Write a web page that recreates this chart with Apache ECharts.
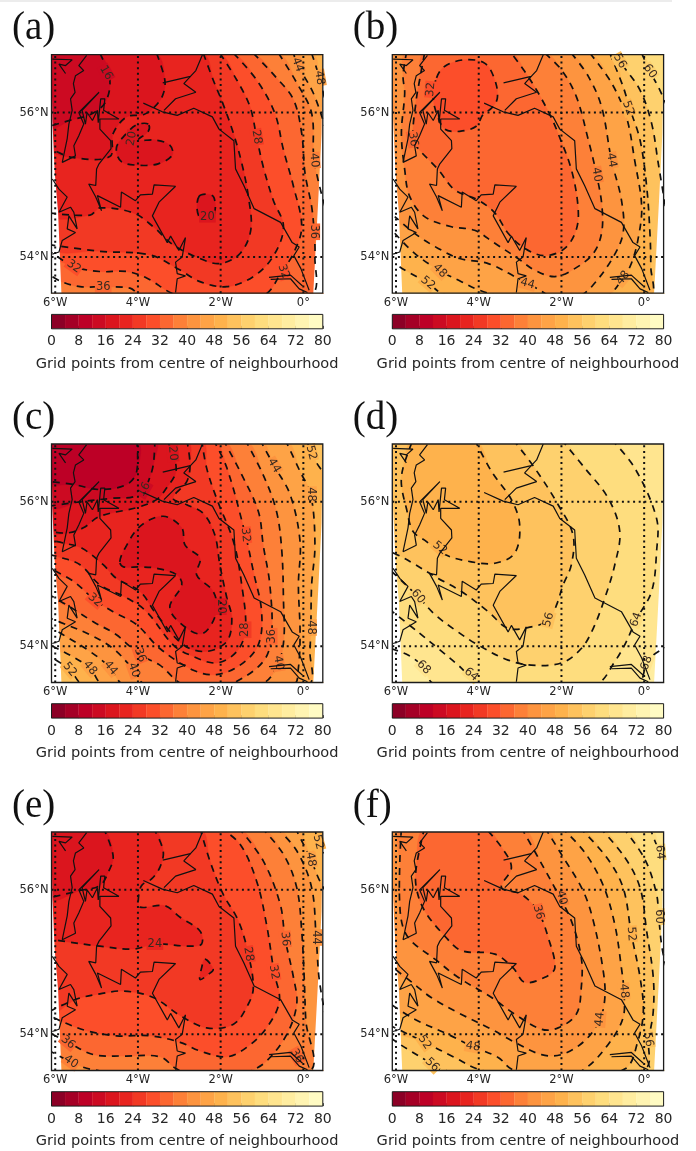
<!DOCTYPE html>
<html><head><meta charset="utf-8">
<style>html,body{margin:0;padding:0;background:#fff}#c{width:696px;height:1151px}</style>
<script src="https://cdn.jsdelivr.net/npm/echarts@6/dist/echarts.min.js"></script>
</head><body><div id="c"></div><script>
// ---- axes and colour scale ----
const lonMin=-6.09, lonMax=0.47, latMin=53.5, latMax=56.8;
const lonTicks=[-6,-4,-2,0], lonTickLabels=['6°W','4°W','2°W','0°'];
const latTicks=[54,56], latTickLabels=['54°N','56°N'];
const barTicks=[0,8,16,24,32,40,48,56,64,72,80];
const barLevels=[4,8,12,16,20,24,28,32,36,40,44,48,52,56,60,64,68,72,76,80];
const cmapStops=[[128,0,38],[189,0,38],[227,26,28],[252,78,42],[253,141,60],[254,178,76],[254,217,118],[255,237,160],[255,255,204]];
const barTitle='Grid points from centre of neighbourhood';
const panelNames=['(a)','(b)','(c)','(d)','(e)','(f)'];

// ---- coastline, lon/lat ----
const coastWest=[[-5.24,56.79],[-5.43,56.65],[-5.31,56.58],[-5.51,56.51],[-5.56,56.40],[-5.52,56.28],[-5.63,56.19],[-5.59,56.03],[-5.67,55.84],[-5.71,55.64],[-5.83,55.31],[-5.51,55.40],[-5.55,55.54],[-5.43,55.68],[-5.31,55.84],[-5.43,56.00],[-4.94,56.28],[-5.35,56.03],[-5.27,55.84],[-5.23,56.00],[-5.10,55.89],[-4.98,56.03],[-4.96,55.86],[-4.90,56.19],[-4.80,56.19],[-4.83,56.03],[-4.46,55.91],[-4.92,55.91],[-4.92,55.77],[-4.66,55.61],[-4.65,55.50],[-4.94,55.29],[-5.00,55.22],[-5.02,54.99],[-5.19,55.01],[-5.02,54.83],[-4.88,54.64],[-4.98,54.85],[-4.42,54.69],[-4.40,54.90],[-4.06,54.78],[-3.94,54.86],[-3.65,54.87],[-3.61,55.00],[-3.09,54.98],[-3.49,54.76],[-3.65,54.57],[-3.29,54.20],[-3.21,54.29],[-3.01,54.09],[-2.85,54.27],[-2.93,54.00],[-3.09,53.93],[-3.05,53.77],[-2.85,53.74],[-3.05,53.70],[-3.09,53.51]];
const coastEast=[[-3.87,56.13],[-3.41,56.01],[-3.05,55.96],[-2.65,56.06],[-2.20,55.94],[-2.04,55.77],[-1.68,55.61],[-1.64,55.22],[-1.44,54.99],[-1.19,54.67],[-0.55,54.48],[-0.27,54.20],[-0.10,54.14],[-0.23,54.02],[-0.06,53.84],[0.14,53.54]];
const coastTay=[[-2.44,56.80],[-2.60,56.58],[-2.73,56.50],[-3.40,56.41]];
const coastForth=[[-2.73,56.50],[-2.89,56.40],[-2.60,56.28],[-3.09,56.19],[-3.37,56.03]];
const coastIslands=[[-6.07,56.74],[-5.59,56.73],[-5.75,56.65],[-5.91,56.67],[-5.75,56.54]];
const coastHumberN=[[-0.83,53.72],[-0.31,53.75],[-0.02,53.60]];
const coastHumberS=[[-0.79,53.69],[-0.31,53.70],[-0.10,53.56],[0.10,53.51]];
const coastIreland=[[-6.07,55.08],[-5.91,54.94],[-5.71,54.83],[-5.91,54.62],[-5.63,54.69],[-5.55,54.62],[-5.47,54.39],[-5.67,54.57],[-5.71,54.39],[-5.51,54.34],[-5.83,54.23],[-5.91,54.07],[-6.07,54.04]];
const coastSegments=[coastWest,coastEast,coastTay,coastForth,coastIslands,coastHumberN,coastHumberS,coastIreland];

// ---- region outside the model domain (left of / right of the curved edges) ----
const outsideLeft=[[-6.3,57],[-6.09,56.8],[-6.07,55.9],[-6.01,55.16],[-5.93,54.61],[-5.85,53.5],[-6.3,53.3]];
const outsideRight=[[0.7,57],[0.47,56.8],[0.44,55.71],[0.36,54.79],[0.24,53.5],[0.7,53.3]];

// ---- panel (a) ----
const baseA=52;
const contoursA=[
{level:48,close:'BR,BL,TL',line:[[0.20,56.82],[0.39,56.48],[0.52,56.18]]},
{level:44,close:'BR,BL,TL',line:[[-0.24,56.82],[-0.14,56.66],[0.24,56.27],[0.52,55.81]]},
{level:40,close:'BR,BL,TL',line:[[-0.60,56.82],[-0.16,56.41],[0.20,55.99],[0.26,55.34],[0.52,54.70]]},
{level:36,close:'TL',line:[[-1.21,56.82],[-0.65,56.48],[-0.24,56.18],[-0.04,55.71],[0.04,55.16],[0.20,54.70],[0.26,54.35],[0.28,54.01],[0.20,53.48],[-1.69,53.27],[-3.95,53.48],[-4.19,53.57],[-4.84,53.59],[-5.40,53.59],[-5.85,53.66],[-6.13,53.75]]},
{level:32,close:'TL',line:[[-1.69,56.82],[-1.13,56.45],[-0.69,55.99],[-0.48,55.48],[-0.24,54.98],[-0.04,54.42],[-0.24,54.05],[-0.52,53.80],[-0.93,53.48],[-2.0,53.35],[-3.10,53.48],[-3.79,53.71],[-4.27,53.80],[-4.92,53.80],[-5.55,53.87],[-6.13,54.08]]},
{level:28,close:'TL',line:[[-2.02,56.82],[-1.61,56.45],[-1.29,56.08],[-1.13,55.66],[-0.97,55.25],[-0.73,54.79],[-0.48,54.42],[-0.73,54.01],[-1.21,53.73],[-1.85,53.59],[-2.50,53.66],[-2.98,53.82],[-3.71,54.03],[-4.92,54.08],[-6.13,54.17]]},
{level:24,close:'TL',line:[[-2.42,56.82],[-2.18,56.45],[-1.95,56.13],[-1.69,55.71],[-1.49,55.30],[-1.33,54.84],[-1.27,54.38],[-1.53,54.05],[-2.02,53.91],[-2.50,53.98],[-3.15,54.17],[-3.63,54.42],[-4.11,54.61],[-4.92,54.68],[-5.16,54.58],[-6.13,54.61]]},
{level:20,close:'TL',line:[[-3.55,56.82],[-3.35,56.45],[-3.40,56.24],[-3.61,56.07],[-3.87,55.97],[-4.27,55.94],[-4.60,55.71],[-4.68,55.39],[-5.60,55.38],[-6.13,55.51]]},
{level:20,closed:true,line:[[-3.75,55.84],[-4.03,55.83],[-4.31,55.69],[-4.52,55.51],[-4.40,55.32],[-3.95,55.27],[-3.51,55.29],[-3.17,55.41],[-3.23,55.55],[-3.59,55.62],[-3.99,55.62],[-3.75,55.74]]},
{level:20,closed:true,line:[[-2.52,54.84],[-2.18,54.84],[-2.18,54.56],[-2.52,54.56]]},
{level:16,close:'TL',line:[[-4.92,56.82],[-4.68,56.45],[-4.80,56.13],[-5.16,55.97],[-5.60,55.90],[-6.13,55.81]]}
];
const labelsA=[['16',-4.77,56.55,-60],['20',-4.15,55.64,80],['20',-2.32,54.56,0],['28',-1.13,55.66,-80],['40',0.26,55.34,-85],['36',0.26,54.35,-90],['44',-0.14,56.66,-70],['48',0.39,56.48,-80],['32',-5.55,53.87,-35],['36',-4.84,53.59,0],['32',-0.48,53.80,-70]];

// ---- panel (b) ----
const baseB=64;
const contoursB=[
{level:60,close:'BR,BL,TL',line:[[-0.06,56.82],[0.14,56.57],[0.38,56.31],[0.62,55.99]]},
{level:56,close:'BR,BL,TL',line:[[-0.67,56.82],[-0.55,56.68],[-0.10,56.31],[0.18,55.85],[0.34,55.30],[0.62,54.33]]},
{level:52,close:'TL',line:[[-0.83,56.82],[-0.51,56.36],[-0.35,56.06],[-0.10,55.62],[0.06,54.98],[0.14,54.33],[0.16,53.87],[0.14,53.45],[-2.0,53.2],[-4.82,53.48],[-5.23,53.64],[-5.79,53.82],[-6.03,53.91]]},
{level:48,close:'TL',line:[[-1.31,56.82],[-0.79,56.41],[-0.43,55.94],[-0.23,55.34],[-0.06,54.70],[-0.15,54.24],[-0.31,53.91],[-0.51,53.71],[-0.91,53.45],[-2.0,53.25],[-3.45,53.45],[-4.02,53.55],[-4.42,53.66],[-4.94,53.81],[-5.55,54.05],[-6.03,54.33]]},
{level:44,close:'TL',line:[[-1.76,56.82],[-1.35,56.50],[-1.03,56.08],[-0.79,55.34],[-0.55,54.79],[-0.51,54.33],[-0.79,53.96],[-1.27,53.59],[-1.56,53.45],[-2.0,53.27],[-2.36,53.48],[-3.13,53.73],[-3.77,53.91],[-4.46,53.98],[-4.98,54.12],[-5.51,54.31],[-6.03,54.56]]},
{level:40,line:[[-2.40,56.82],[-2.00,56.59],[-1.64,56.22],[-1.35,55.62],[-1.15,55.14],[-1.02,54.70],[-1.03,54.33],[-1.23,54.05],[-1.68,53.84],[-2.16,53.73],[-2.65,53.82],[-3.05,53.98],[-3.61,54.19],[-4.10,54.37],[-4.66,54.42],[-5.31,54.56],[-5.67,54.84],[-5.79,55.21],[-5.87,55.71],[-5.79,56.27],[-5.83,56.50],[-5.75,56.82]]},
{level:36,line:[[-5.31,56.82],[-5.43,56.45],[-5.51,56.18],[-5.59,55.62],[-5.43,55.48],[-4.98,55.21],[-4.58,54.93],[-4.02,54.79],[-3.61,54.61],[-3.29,54.33],[-2.89,54.12],[-2.40,54.02],[-1.92,54.12],[-1.64,54.38],[-1.60,54.70],[-1.76,55.21],[-2.08,55.71],[-2.28,55.97],[-2.60,56.31],[-2.89,56.57],[-3.21,56.82]]},
{level:32,closed:true,line:[[-5.02,56.48],[-4.82,56.64],[-4.34,56.73],[-3.85,56.68],[-3.61,56.45],[-3.55,56.20],[-3.69,56.06],[-3.90,55.97],[-4.06,55.81],[-4.46,55.74],[-4.82,55.77],[-5.02,55.99],[-5.10,56.22]]}
];
const labelsB=[['32',-5.16,56.32,85],['36',-5.59,55.63,-80],['48',-4.94,53.81,-45],['52',-5.23,53.64,-40],['44',-2.82,53.63,-15],['40',-1.15,55.14,-80],['44',-0.79,55.34,-80],['52',-0.39,56.06,-70],['56',-0.59,56.71,-60],['60',0.14,56.57,-55],['48',-0.51,53.71,50]];

// ---- panel (c) ----
const baseC=56;
const contoursC=[
{level:52,close:'TL',line:[[0.08,56.86],[0.19,56.68],[0.40,56.47],[0.73,56.24],[0.73,53.47],[-2.34,53.19],[-5.32,53.47],[-5.65,53.68],[-6.13,53.86]]},
{level:48,close:'TL',line:[[-0.44,56.86],[-0.08,56.42],[0.18,56.10],[0.28,55.40],[0.20,54.85],[0.18,54.26],[0.16,53.93],[0.12,53.47],[-2.34,53.24],[-4.84,53.47],[-5.16,53.70],[-5.65,53.88],[-6.13,54.02]]},
{level:44,close:'TL',line:[[-1.05,56.86],[-0.71,56.50],[-0.32,56.10],[-0.08,55.45],[-0.12,54.85],[-0.08,54.20],[-0.12,53.70],[-0.24,53.47],[-2.34,53.26],[-4.35,53.47],[-4.66,53.70],[-5.16,53.93],[-5.81,54.16],[-6.13,54.27]]},
{level:40,close:'TL',line:[[-1.41,56.86],[-0.97,56.37],[-0.65,55.87],[-0.52,55.31],[-0.48,54.62],[-0.47,54.11],[-0.60,53.77],[-0.97,53.49],[-2.34,53.31],[-3.87,53.49],[-4.10,53.67],[-4.60,53.97],[-5.16,54.16],[-5.73,54.30],[-6.13,54.39]]},
{level:36,close:'TL',line:[[-1.94,56.86],[-1.53,56.42],[-1.09,55.87],[-0.97,55.40],[-0.81,54.85],[-0.77,54.14],[-0.97,53.79],[-1.69,53.49],[-2.34,53.35],[-2.98,53.49],[-3.47,53.74],[-3.95,53.88],[-4.52,54.16],[-5.08,54.34],[-5.60,54.53],[-6.13,54.71]]},
{level:32,close:'TL',line:[[-2.18,56.86],[-1.85,56.47],[-1.40,55.54],[-1.21,55.04],[-1.01,54.48],[-1.09,54.02],[-1.53,53.74],[-2.10,53.61],[-2.66,53.67],[-3.47,53.97],[-4.03,54.30],[-4.60,54.48],[-5.04,54.64],[-5.56,54.90],[-6.13,55.08]]},
{level:28,close:'TL',line:[[-2.46,56.86],[-2.34,56.47],[-2.10,56.05],[-1.69,55.45],[-1.49,54.85],[-1.40,54.23],[-1.61,53.93],[-2.10,53.77],[-2.74,53.88],[-3.15,54.02],[-3.79,54.48],[-4.27,54.67],[-4.92,54.85],[-5.40,55.13],[-5.93,55.24],[-6.13,55.27]]},
{level:24,close:'TL',line:[[-2.82,56.86],[-2.74,56.51],[-2.82,56.28],[-3.15,56.05],[-2.82,55.96],[-2.42,55.84],[-2.14,55.54],[-2.02,55.13],[-1.85,54.67],[-1.73,54.39],[-1.85,54.07],[-2.34,53.93],[-2.90,54.02],[-3.55,54.44],[-3.95,54.76],[-4.52,54.94],[-4.84,55.13],[-5.36,55.36],[-5.81,55.43],[-6.13,55.47]]},
{level:20,close:'TL',line:[[-3.31,56.86],[-3.16,56.67],[-3.08,56.42],[-3.31,56.19],[-3.55,56.03],[-4.03,55.92],[-4.92,55.80],[-5.32,55.64],[-5.69,55.57],[-6.13,55.59]]},
{level:20,closed:true,line:[[-4.44,55.17],[-4.31,55.36],[-3.95,55.66],[-3.39,55.80],[-2.94,55.64],[-2.86,55.40],[-2.50,55.22],[-2.58,54.99],[-2.18,54.76],[-2.10,54.48],[-2.42,54.18],[-2.82,54.25],[-3.23,54.53],[-2.94,54.85],[-3.06,54.99],[-3.55,55.08],[-3.95,55.10],[-4.35,55.10]]},
{level:16,close:'TL',line:[[-3.59,56.86],[-3.63,56.51],[-3.75,56.28],[-3.85,56.17],[-4.11,56.07],[-4.60,56.05],[-5.40,56.00],[-6.13,55.94]]},
{level:12,close:'TL',line:[[-4.03,56.86],[-4.03,56.42],[-4.27,56.24],[-4.92,56.17],[-5.56,56.24],[-6.13,56.28]]}
];
const labelsC=[['20',-3.16,56.67,-85],['16',-3.85,56.17,60],['44',-0.71,56.50,-60],['52',0.19,56.68,-75],['48',0.18,56.10,-90],['32',-1.40,55.54,-85],['32',-5.04,54.64,-40],['20',-2.00,54.55,-90],['28',-1.40,54.23,90],['36',-0.77,54.14,90],['48',0.18,54.26,-90],['36',-3.95,53.88,-70],['40',-4.10,53.67,-70],['44',-4.66,53.70,-50],['48',-5.16,53.70,-50],['52',-5.65,53.68,-50],['40',-0.60,53.77,-80]];

// ---- panel (d) ----
const baseD=72;
const contoursD=[
{level:68,close:'TL',line:[[0.82,56.86],[0.82,54.16],[0.22,53.88],[0.06,53.77],[-0.15,53.49],[-2.40,53.24],[-5.10,53.49],[-5.33,53.71],[-5.71,53.88],[-6.13,53.97]]},
{level:64,close:'TL',line:[[-0.79,56.86],[-0.23,56.47],[0.30,55.77],[0.30,55.31],[0.18,54.76],[-0.19,54.37],[-0.47,54.02],[-0.71,53.79],[-1.11,53.49],[-2.40,53.28],[-4.06,53.49],[-4.42,53.70],[-4.98,53.97],[-5.47,54.20],[-6.13,54.50]]},
{level:60,close:'TL',line:[[-2.00,56.86],[-1.44,56.47],[-0.87,56.05],[-0.59,55.59],[-0.71,55.13],[-0.95,54.67],[-1.23,54.25],[-1.52,53.97],[-2.00,53.77],[-2.73,53.74],[-3.29,53.81],[-4.02,54.02],[-4.58,54.23],[-5.06,54.44],[-5.47,54.69],[-6.13,55.05]]},
{level:56,close:'TL',line:[[-3.17,56.86],[-2.65,56.47],[-2.08,55.96],[-1.72,55.54],[-1.76,55.13],[-1.96,54.85],[-2.12,54.57],[-2.31,54.36],[-2.73,54.27],[-3.29,54.25],[-3.77,54.48],[-4.42,54.76],[-4.98,54.94],[-5.59,55.15],[-5.87,55.24],[-6.13,55.31]]},
{level:52,line:[[-4.10,56.86],[-3.69,56.42],[-3.21,56.03],[-3.01,55.68],[-3.13,55.29],[-3.61,55.15],[-4.18,55.17],[-4.82,55.27],[-5.31,55.47],[-5.59,55.59],[-5.75,55.91],[-5.87,56.24],[-5.83,56.47],[-5.59,56.86]]}
];
const labelsD=[['52',-4.94,55.36,-40],['60',-5.47,54.69,-50],['68',-5.33,53.71,-45],['64',-4.18,53.61,-40],['56',-2.31,54.37,75],['64',-0.19,54.37,70],['68',0.06,53.77,70]];

// ---- panel (e) ----
const baseE=56;
const contoursE=[
{level:52,close:'BR,BL,TL',line:[[0.28,56.86],[0.36,56.66],[0.73,56.31]]},
{level:48,close:'BR,BL,TL',line:[[-0.20,56.86],[0.18,56.42],[0.40,56.12],[0.73,55.80]]},
{level:44,close:'BR,BL,TL',line:[[-0.65,56.86],[-0.16,56.54],[0.20,56.03],[0.31,55.34],[0.40,54.69],[0.73,53.72]]},
{level:40,close:'TL',line:[[-1.01,56.86],[-0.48,56.49],[-0.16,56.03],[-0.04,55.43],[0.02,54.79],[0.06,54.19],[0.16,53.49],[-2.18,53.26],[-5.16,53.52],[-5.62,53.62],[-6.13,53.77]]},
{level:36,close:'TL',line:[[-1.57,56.86],[-0.97,56.40],[-0.56,55.80],[-0.44,55.32],[-0.24,54.79],[-0.16,54.42],[-0.40,54.00],[-0.89,53.63],[-1.29,53.49],[-2.18,53.31],[-3.06,53.52],[-3.47,53.69],[-4.35,53.70],[-5.08,53.72],[-5.69,53.89],[-6.13,54.02]]},
{level:32,close:'TL',line:[[-2.02,56.86],[-1.53,56.63],[-1.13,56.12],[-0.89,55.52],[-0.71,54.86],[-0.58,54.46],[-0.89,54.09],[-1.37,53.82],[-1.85,53.69],[-2.50,53.77],[-2.98,53.89],[-3.71,53.98],[-4.52,53.98],[-5.24,54.05],[-5.89,54.19],[-6.13,54.26]]},
{level:28,close:'TL',line:[[-2.50,56.86],[-2.26,56.40],[-1.94,55.94],[-1.57,55.57],[-1.33,55.11],[-1.21,54.65],[-1.33,54.42],[-1.69,54.14],[-2.34,54.09],[-2.98,54.26],[-3.63,54.51],[-4.35,54.60],[-4.92,54.56],[-5.48,54.49],[-6.13,54.32]]},
{level:24,close:'TL',line:[[-3.63,56.86],[-3.39,56.54],[-3.47,56.31],[-3.67,56.15],[-3.91,56.06],[-3.99,55.87],[-3.95,55.76],[-3.35,55.78],[-2.98,55.62],[-2.50,55.43],[-2.46,55.25],[-2.74,55.22],[-3.59,55.25],[-4.11,55.18],[-4.92,55.22],[-5.81,55.29],[-6.13,55.32]]},
{level:24,closed:true,line:[[-2.38,55.04],[-2.18,54.90],[-2.30,54.83],[-2.50,54.76],[-2.46,54.92]]},
{level:20,close:'TL',line:[[-4.84,56.86],[-4.60,56.47],[-4.72,56.24],[-4.92,56.06],[-5.40,55.99],[-6.13,55.89]]}
];
const labelsE=[['24',-3.59,55.25,0],['28',-1.33,55.11,-80],['32',-0.71,54.86,-80],['36',-0.44,55.32,-85],['44',0.31,55.34,-90],['48',0.18,56.42,-80],['52',0.36,56.66,-75],['36',-5.69,53.89,-40],['40',-5.62,53.62,-35],['36',-0.16,53.70,-60]];

// ---- panel (f) ----
const baseF=68;
const contoursF=[
{level:64,close:'BR,BL,TL',line:[[0.14,56.86],[0.38,56.52],[0.82,56.12]]},
{level:60,close:'BR,BL,TL',line:[[-0.51,56.86],[0.02,56.42],[0.30,55.94],[0.35,55.63],[0.46,55.11],[0.82,54.32]]},
{level:56,close:'TL',line:[[-1.07,56.86],[-0.47,56.45],[-0.10,56.03],[0.06,55.43],[0.22,54.79],[0.22,54.32],[0.11,53.93],[0.02,53.52],[-2.24,53.21],[-4.94,53.52],[-5.13,53.59],[-5.79,53.82],[-6.13,53.95]]},
{level:52,close:'TL',line:[[-1.56,56.86],[-0.91,56.45],[-0.51,56.03],[-0.31,55.39],[-0.10,54.79],[-0.02,54.32],[-0.15,53.91],[-0.47,53.52],[-2.24,53.26],[-4.02,53.52],[-4.58,53.68],[-5.31,53.89],[-6.13,54.12]]},
{level:48,close:'TL',line:[[-2.00,56.86],[-1.44,56.52],[-0.99,56.06],[-0.71,55.52],[-0.55,54.92],[-0.49,54.60],[-0.51,54.23],[-0.87,53.86],[-1.44,53.52],[-2.24,53.31],[-3.21,53.52],[-3.53,53.68],[-4.14,53.83],[-4.74,54.00],[-5.55,54.21],[-6.13,54.42]]},
{level:44,close:'TL',line:[[-2.40,56.86],[-2.00,56.49],[-1.48,55.99],[-1.23,55.57],[-0.99,54.88],[-0.95,54.51],[-1.07,54.21],[-1.44,53.91],[-2.00,53.72],[-2.48,53.72],[-3.13,53.89],[-3.69,54.07],[-4.50,54.30],[-5.15,54.51],[-5.55,54.69],[-6.13,54.95]]},
{level:40,line:[[-2.97,56.86],[-2.48,56.36],[-2.08,55.94],[-1.76,55.57],[-1.52,55.06],[-1.52,54.65],[-1.64,54.28],[-2.08,54.09],[-2.48,54.07],[-3.13,54.28],[-3.69,54.51],[-4.50,54.79],[-5.06,55.04],[-5.63,55.29],[-5.83,55.48],[-5.91,55.80],[-5.91,56.36],[-5.87,56.86]]},
{level:36,line:[[-5.31,56.86],[-5.51,56.31],[-5.51,56.03],[-5.31,55.71],[-4.82,55.36],[-4.42,55.16],[-3.61,55.11],[-3.17,54.92],[-2.89,54.72],[-2.40,54.79],[-2.16,54.92],[-2.32,55.34],[-2.56,55.69],[-2.97,55.94],[-3.45,56.03],[-3.21,56.31],[-3.45,56.59],[-3.85,56.86]]}
];
const labelsF=[['36',-2.56,55.69,-75],['40',-2.00,55.89,-75],['52',-0.31,55.39,-85],['48',-0.49,54.60,-85],['44',-1.07,54.21,85],['52',-5.31,53.89,-55],['48',-4.14,53.83,-10],['56',-5.13,53.58,-45],['56',0.10,53.93,-80],['60',0.35,55.63,-90],['64',0.38,56.52,-85]];

const allContours=[contoursA,contoursB,contoursC,contoursD,contoursE,contoursF];
const allLabels=[labelsA,labelsB,labelsC,labelsD,labelsE,labelsF];
const allBases=[baseA,baseB,baseC,baseD,baseE,baseF];

// ---- layout ----
const colLeft=[51.5,392.3], rowTop=[54.7,444,832], mapW=271.3, mapH=238.5, barOff=259.7, barH=14.4;
const farCorners={TL:[-8,58.5],TR:[2.5,58.5],BR:[2.5,51.5],BL:[-8,51.5]};
const DARK='#1c1c1c', TXT='#262626', SMOOTH=0.35;

function bandColor(top){
  const p=8*((top/4-1)+0.5)/20, i=Math.min(7,Math.floor(p)), f=p-i;
  const c=[0,1,2].map(k=>Math.round(cmapStops[i][k]+(cmapStops[i+1][k]-cmapStops[i][k])*f));
  return 'rgb('+c.join(',')+')';
}
const grid=[],xAxis=[],yAxis=[],series=[],title=[];

function addMap(idx,g){
  const x=g, y=g, cs=allContours[idx], ls=allLabels[idx];
  const common={coordinateSystem:'cartesian2d',xAxisIndex:x,yAxisIndex:y,silent:true,animation:false};
  const coordAll=(api,pts)=>pts.map(p=>api.coord(p));
  const whole=[farCorners.TL,farCorners.TR,farCorners.BR,farCorners.BL];
  const fills=[{level:allBases[idx],line:whole}].concat(cs);
  series.push(Object.assign({},common,{type:'custom',z:1,clip:true,data:fills.map((c,i)=>[i]),encode:{x:0},
    renderItem(p,api){const c=fills[p.dataIndex];
      const extra=c.close?c.close.split(',').map(k=>farCorners[k]):[];
      const col=bandColor(c.level);
      return {type:'polygon',shape:{points:coordAll(api,c.line.concat(extra)),smooth:c.line===whole?0:SMOOTH},style:{fill:col,stroke:col,lineWidth:0.5}};
    }}));
  series.push(Object.assign({},common,{type:'custom',z:2,clip:true,data:[[0],[1]],encode:{x:0},
    renderItem(p,api){const pts=p.dataIndex?outsideRight:outsideLeft;
      return {type:'polygon',shape:{points:coordAll(api,pts)},style:{fill:'#fff'}};
    }}));
  series.push(Object.assign({},common,{type:'custom',z:3,clip:true,data:cs.map((c,i)=>[i]),encode:{x:0},
    renderItem(p,api){const c=cs[p.dataIndex];
      return {type:c.closed?'polygon':'polyline',shape:{points:coordAll(api,c.line),smooth:SMOOTH},
        style:{fill:null,stroke:'#111',lineWidth:1.7,lineDash:[7,6]}};
    }}));
  // labels sit between contours and coastline: their backing breaks the dashed line, as in a clabel
  series.push(Object.assign({},common,{type:'custom',z:3,clip:false,data:ls.map((l,i)=>[i]),encode:{x:0},
    renderItem(p,api){const l=ls[p.dataIndex],c=api.coord([l[1],l[2]]);
      return {type:'text',x:c[0],y:c[1],rotation:l[3]*Math.PI/180,
        style:{text:l[0],font:'11.5px "DejaVu Sans"',fill:'#3a2a20',align:'center',verticalAlign:'middle',
          backgroundColor:bandColor(Number(l[0])),padding:[0,1]}};
    }}));
  coastSegments.forEach(seg=>series.push({type:'line',xAxisIndex:x,yAxisIndex:y,z:4,data:seg,symbol:'none',silent:true,animation:false,lineStyle:{color:'#111',width:1.2}}));
  lonTicks.forEach(v=>series.push({type:'line',xAxisIndex:x,yAxisIndex:y,z:5,data:[[v,latMin],[v,latMax]],symbol:'none',silent:true,animation:false,lineStyle:{color:'#111',width:2,type:[2,3.6]}}));
  latTicks.forEach(v=>series.push({type:'line',xAxisIndex:x,yAxisIndex:y,z:5,data:[[lonMin,v],[lonMax,v]],symbol:'none',silent:true,animation:false,lineStyle:{color:'#111',width:2,type:[2,3.6]}}));
}
function addBar(g){
  series.push({type:'custom',coordinateSystem:'cartesian2d',xAxisIndex:g,yAxisIndex:g,z:2,silent:true,animation:false,clip:true,
    data:barLevels.map((l,i)=>[i]),encode:{x:0},
    renderItem(p,api){const top=barLevels[p.dataIndex],a=api.coord([top-4,1]),b=api.coord([top,0]);
      const col=bandColor(top);
      return {type:'rect',shape:{x:a[0],y:a[1],width:b[0]-a[0],height:b[1]-a[1]},style:{fill:col,stroke:col,lineWidth:0.3}};
    }});
}
panelNames.forEach((name,i)=>{
  const L=colLeft[i%2],T=rowTop[Math.floor(i/2)];
  grid.push({left:L,top:T,width:mapW,height:mapH,show:true,borderColor:DARK,borderWidth:1.3,backgroundColor:'transparent',z:8,containLabel:false});
  xAxis.push({type:'value',gridIndex:grid.length-1,min:lonMin,max:lonMax,axisLine:{show:false},splitLine:{show:false},
    axisTick:{length:0,customValues:lonTicks},
    axisLabel:{customValues:lonTicks,margin:4,color:TXT,fontFamily:'DejaVu Sans',fontSize:11.5,formatter:v=>lonTickLabels[lonTicks.indexOf(v)]}});
  yAxis.push({type:'value',gridIndex:grid.length-1,min:latMin,max:latMax,axisLine:{show:false},splitLine:{show:false},
    axisTick:{length:0,customValues:latTicks},
    axisLabel:{customValues:latTicks,margin:3,color:TXT,fontFamily:'DejaVu Sans',fontSize:11.5,formatter:v=>latTickLabels[latTicks.indexOf(v)]}});
});
panelNames.forEach((name,i)=>addMap(i,i));
panelNames.forEach((name,i)=>{
  const L=colLeft[i%2],T=rowTop[Math.floor(i/2)],g=grid.length;
  grid.push({left:L,top:T+barOff,width:mapW,height:barH,show:true,borderColor:DARK,borderWidth:1,backgroundColor:'transparent',z:8});
  xAxis.push({type:'value',gridIndex:g,min:barTicks[0],max:barTicks[barTicks.length-1],interval:8,axisLine:{show:false},splitLine:{show:false},
    axisTick:{show:true,inside:true,length:3,lineStyle:{color:DARK,width:0.8}},
    axisLabel:{margin:6,color:TXT,fontFamily:'DejaVu Sans',fontSize:14},
    name:barTitle,nameLocation:'middle',nameGap:28,nameTextStyle:{color:TXT,fontFamily:'DejaVu Sans',fontSize:14.55}});
  yAxis.push({type:'value',gridIndex:g,min:0,max:1,show:false});
  addBar(g);
  title.push({text:name,left:L-39.5,top:T-45,padding:0,textStyle:{fontFamily:'Liberation Serif',fontSize:39,fontWeight:'normal',color:'#111'}});
});
const chart=echarts.init(document.getElementById('c'),null,{renderer:'canvas'});
chart.setOption({animation:false,backgroundColor:'#fff',title,grid,xAxis,yAxis,series,
  graphic:[{type:'rect',shape:{x:0,y:0,width:672,height:2},style:{fill:'#ececec'},silent:true}]});
</script></body></html>
